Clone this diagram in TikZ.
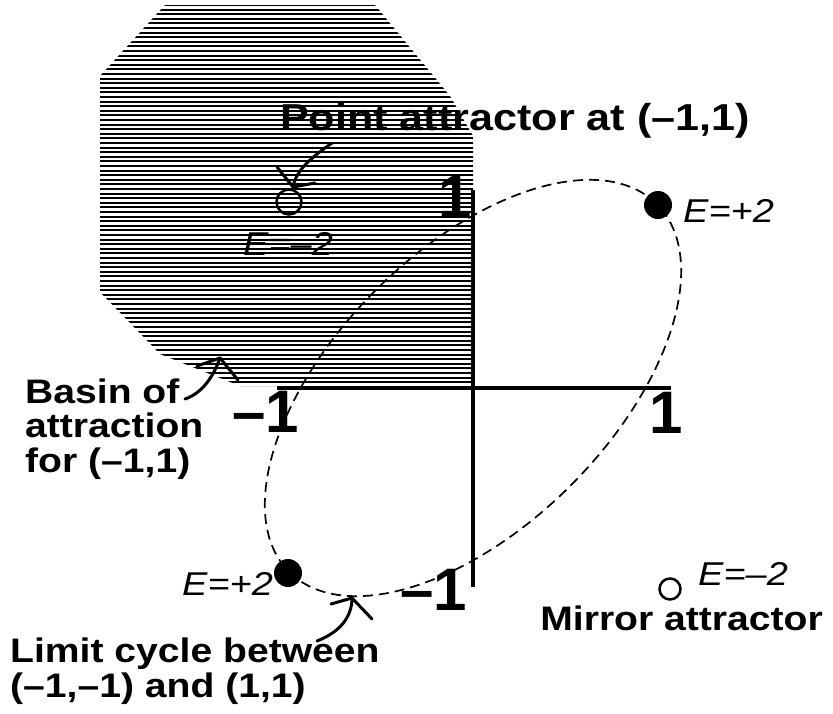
\documentclass[tikz,border=0pt]{standalone}
\usepackage{fontspec}
\newfontfamily\lab{Liberation Sans}[FakeStretch=1.15]
\newfontfamily\labn{Liberation Sans}
\begin{document}
\begin{tikzpicture}[x=1pt,y=-1pt,
  lbl/.style={font=\lab\bfseries\fontsize{34}{34.5}\selectfont, inner sep=0pt},
  big/.style={font=\labn\bfseries\fontsize{60}{60}\selectfont, inner sep=0pt},
  hand/.style={font=\lab\itshape\fontsize{33}{33}\selectfont, inner sep=0pt},
  axis/.style={line width=4pt},
  chk/.style={line width=3pt, line cap=round, line join=round},
  cyc/.style={line width=1.7pt, dash pattern=on 10pt off 6pt},
  fp/.style={circle, fill=black, minimum size=28pt, inner sep=0pt},
  op/.style={circle, draw=black, line width=2.5pt, inner sep=0pt}]
\useasboundingbox (0,0) rectangle (833,713);
\fill[white] (0,0) rectangle (833,713);
% basin of attraction (hatched)
\begin{scope}
  \clip (165,5) -- (375,5) -- (450,96) -- (473,136) -- (473,386) -- (240,386)
        -- (160,354) -- (100,292) -- (100,76) -- cycle;
  \foreach \k in {0,...,85}{
    \pgfmathsetmacro\yy{5+\k*4.6}
    \draw[line width=2pt] (95,\yy) -- (480,\yy);
  }
\end{scope}
% axes
\coordinate (O) at (473,388);
\coordinate (yT) at (473,190);
\coordinate (yB) at (473,587);
\coordinate (xL) at (277,388);
\coordinate (xR) at (671,388);
\draw[axis] (yT) -- (yB);
\draw[axis] (xL) -- (xR);
% limit cycle
\draw[cyc, rotate around={45:(O)}] (O) ellipse [x radius=260pt, y radius=138pt];
% fixed points
\node[fp] (pA) at (658,205) {};
\node[fp] (pB) at (288,573) {};
\node[op, minimum size=25pt] (oA) at (289,202) {};
\node[op, minimum size=21pt] (oB) at (670,589) {};
% energy labels
\node[hand, anchor=base west] (eA) at (683,222) {E=+2};
\node[hand, anchor=base west] (eB) at (182,595) {E=+2};
\node[hand, anchor=base west] (eC) at (243,255) {E=–2};
\node[hand, anchor=base west] (eD) at (698,585) {E=–2};
% axis numbers
\node[big, anchor=base] (nT) at (455,217) {1};
\node[big, anchor=base] (nR) at (666,433) {1};
\node[big, anchor=base east] (nL) at (299,432) {–1};
\node[big, anchor=base west] (nB) at (400,610) {–1};
% text labels (base = baseline of the last line)
\node[lbl, font=\lab\bfseries\fontsize{37.5}{37.5}\selectfont, anchor=base west] (tPoint) at (280,130) {Point attractor at (–1,1)};
\node[lbl, anchor=base west, align=left] (tBasin) at (25,472) {Basin of\\attraction\\for (–1,1)};
\node[lbl, anchor=base west, align=left] (tLimit) at (10,697) {Limit cycle between\\(–1,–1) and (1,1)};
\node[lbl, anchor=base east] (tMirror) at (823,630) {Mirror attractor};
% check-mark arrows
\coordinate (a1s) at (332,143); \coordinate (a1t) at (293,187);
\coordinate (a1l) at (277,167); \coordinate (a1r) at (315,183);
\draw[chk] (a1s) .. controls (312,157) and (296,170) .. (a1t);
\draw[chk] (a1l) -- (a1t) -- (a1r);
\coordinate (a2s) at (185,399); \coordinate (a2t) at (220,358);
\coordinate (a2l) at (197,366); \coordinate (a2r) at (238,380);
\draw[chk] (a2s) .. controls (203,393) and (214,375) .. (a2t);
\draw[chk] (a2l) -- (a2t) -- (a2r);
\coordinate (a3s) at (317,641); \coordinate (a3t) at (352,598);
\coordinate (a3l) at (331,604); \coordinate (a3r) at (372,619);
\draw[chk] (a3s) .. controls (340,632) and (352,617) .. (a3t);
\draw[chk] (a3l) -- (a3t) -- (a3r);
\end{tikzpicture}
\end{document}
